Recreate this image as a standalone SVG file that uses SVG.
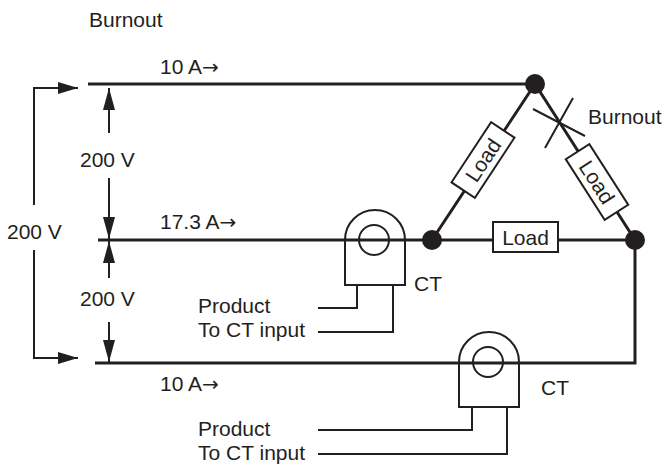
<svg xmlns="http://www.w3.org/2000/svg" width="671" height="465" viewBox="0 0 671 465">
<style>
text{font-family:"Liberation Sans",Arial,sans-serif;font-size:21px;fill:#231f20}
.ar{font-family:"DejaVu Sans",sans-serif;font-size:20px}
.w{stroke:#231f20;stroke-width:3;fill:none}
.t{stroke:#231f20;stroke-width:2;fill:none}
.b{stroke:#231f20;stroke-width:2;fill:#fff}
.d{fill:#231f20}
</style>
<defs>
<marker id="a" markerWidth="20" markerHeight="12" refX="20" refY="6" orient="auto" markerUnits="userSpaceOnUse"><path d="M0,0 L20,6 L0,12 Z" fill="#231f20"/></marker>
<marker id="v" markerWidth="22" markerHeight="12" refX="22" refY="6" orient="auto" markerUnits="userSpaceOnUse"><path d="M0,0 L22,6 L0,12 Z" fill="#231f20"/></marker>
</defs>
<g id="connectors">
<path class="w" d="M88,84 H535"/>
<path class="w" d="M98,240 H635 V363 H95"/>
<path class="w" d="M432,240 L535,84 L635,240"/>
<path class="t" d="M34,205 V88 H78" marker-end="url(#a)"/>
<path class="t" d="M34,250 V358 H78" marker-end="url(#a)"/>
<path class="t" d="M109,133 V88" marker-end="url(#v)"/>
<path class="t" d="M109,178 V239" marker-end="url(#v)"/>
<path class="t" d="M109,278 V241" marker-end="url(#v)"/>
<path class="t" d="M109,322 V362" marker-end="url(#v)"/>
<path class="t" d="M357,285 V308 H318 M393,285 V332 H318"/>
<path class="t" d="M472,407 V430 H318 M507,407 V454 H318"/>
<path class="t" d="M533,109 L585,136 M545,148 L573,98"/>
</g>
<g id="dots"><circle class="d" cx="535" cy="84" r="10"/><circle class="d" cx="432" cy="240" r="10"/><circle class="d" cx="635" cy="240" r="10"/></g>
<g id="ct1"><path class="b" d="M345,285 V240 A30,30 0 0 1 405,240 V285 Z"/><path class="w" d="M345,240 H405"/><circle class="t" cx="374" cy="240" r="15"/></g>
<g id="ct2"><path class="b" d="M459,407 V362 A30,30 0 0 1 519,362 V407 Z"/><path class="w" d="M459,363 H519"/><circle class="t" cx="488" cy="362" r="15"/></g>
<g id="load1"><rect class="b" x="493" y="222" width="65" height="30"/><text x="525.5" y="245" text-anchor="middle">Load</text></g>
<g id="load2" transform="translate(483,160) rotate(-56.6)"><rect class="b" x="-36" y="-14" width="72" height="28"/><text x="0" y="7.5" text-anchor="middle">Load</text></g>
<g id="load3" transform="translate(597,182) rotate(57.3)"><rect class="b" x="-36" y="-14" width="72" height="28"/><text x="0" y="7.5" text-anchor="middle">Load</text></g>
<g id="labels">
<text x="89" y="27">Burnout</text>
<text x="588" y="124">Burnout</text>
<text x="160" y="74">10 A<tspan class="ar">→</tspan></text>
<text x="160" y="229">17.3 A<tspan class="ar">→</tspan></text>
<text x="160" y="391">10 A<tspan class="ar">→</tspan></text>
<text x="80" y="167">200 V</text>
<text x="80" y="306">200 V</text>
<text x="7" y="239">200 V</text>
<text x="414" y="291">CT</text>
<text x="541" y="395">CT</text>
<text x="198" y="313">Product</text>
<text x="198" y="337">To CT input</text>
<text x="198" y="436">Product</text>
<text x="198" y="460">To CT input</text>
</g>
</svg>
